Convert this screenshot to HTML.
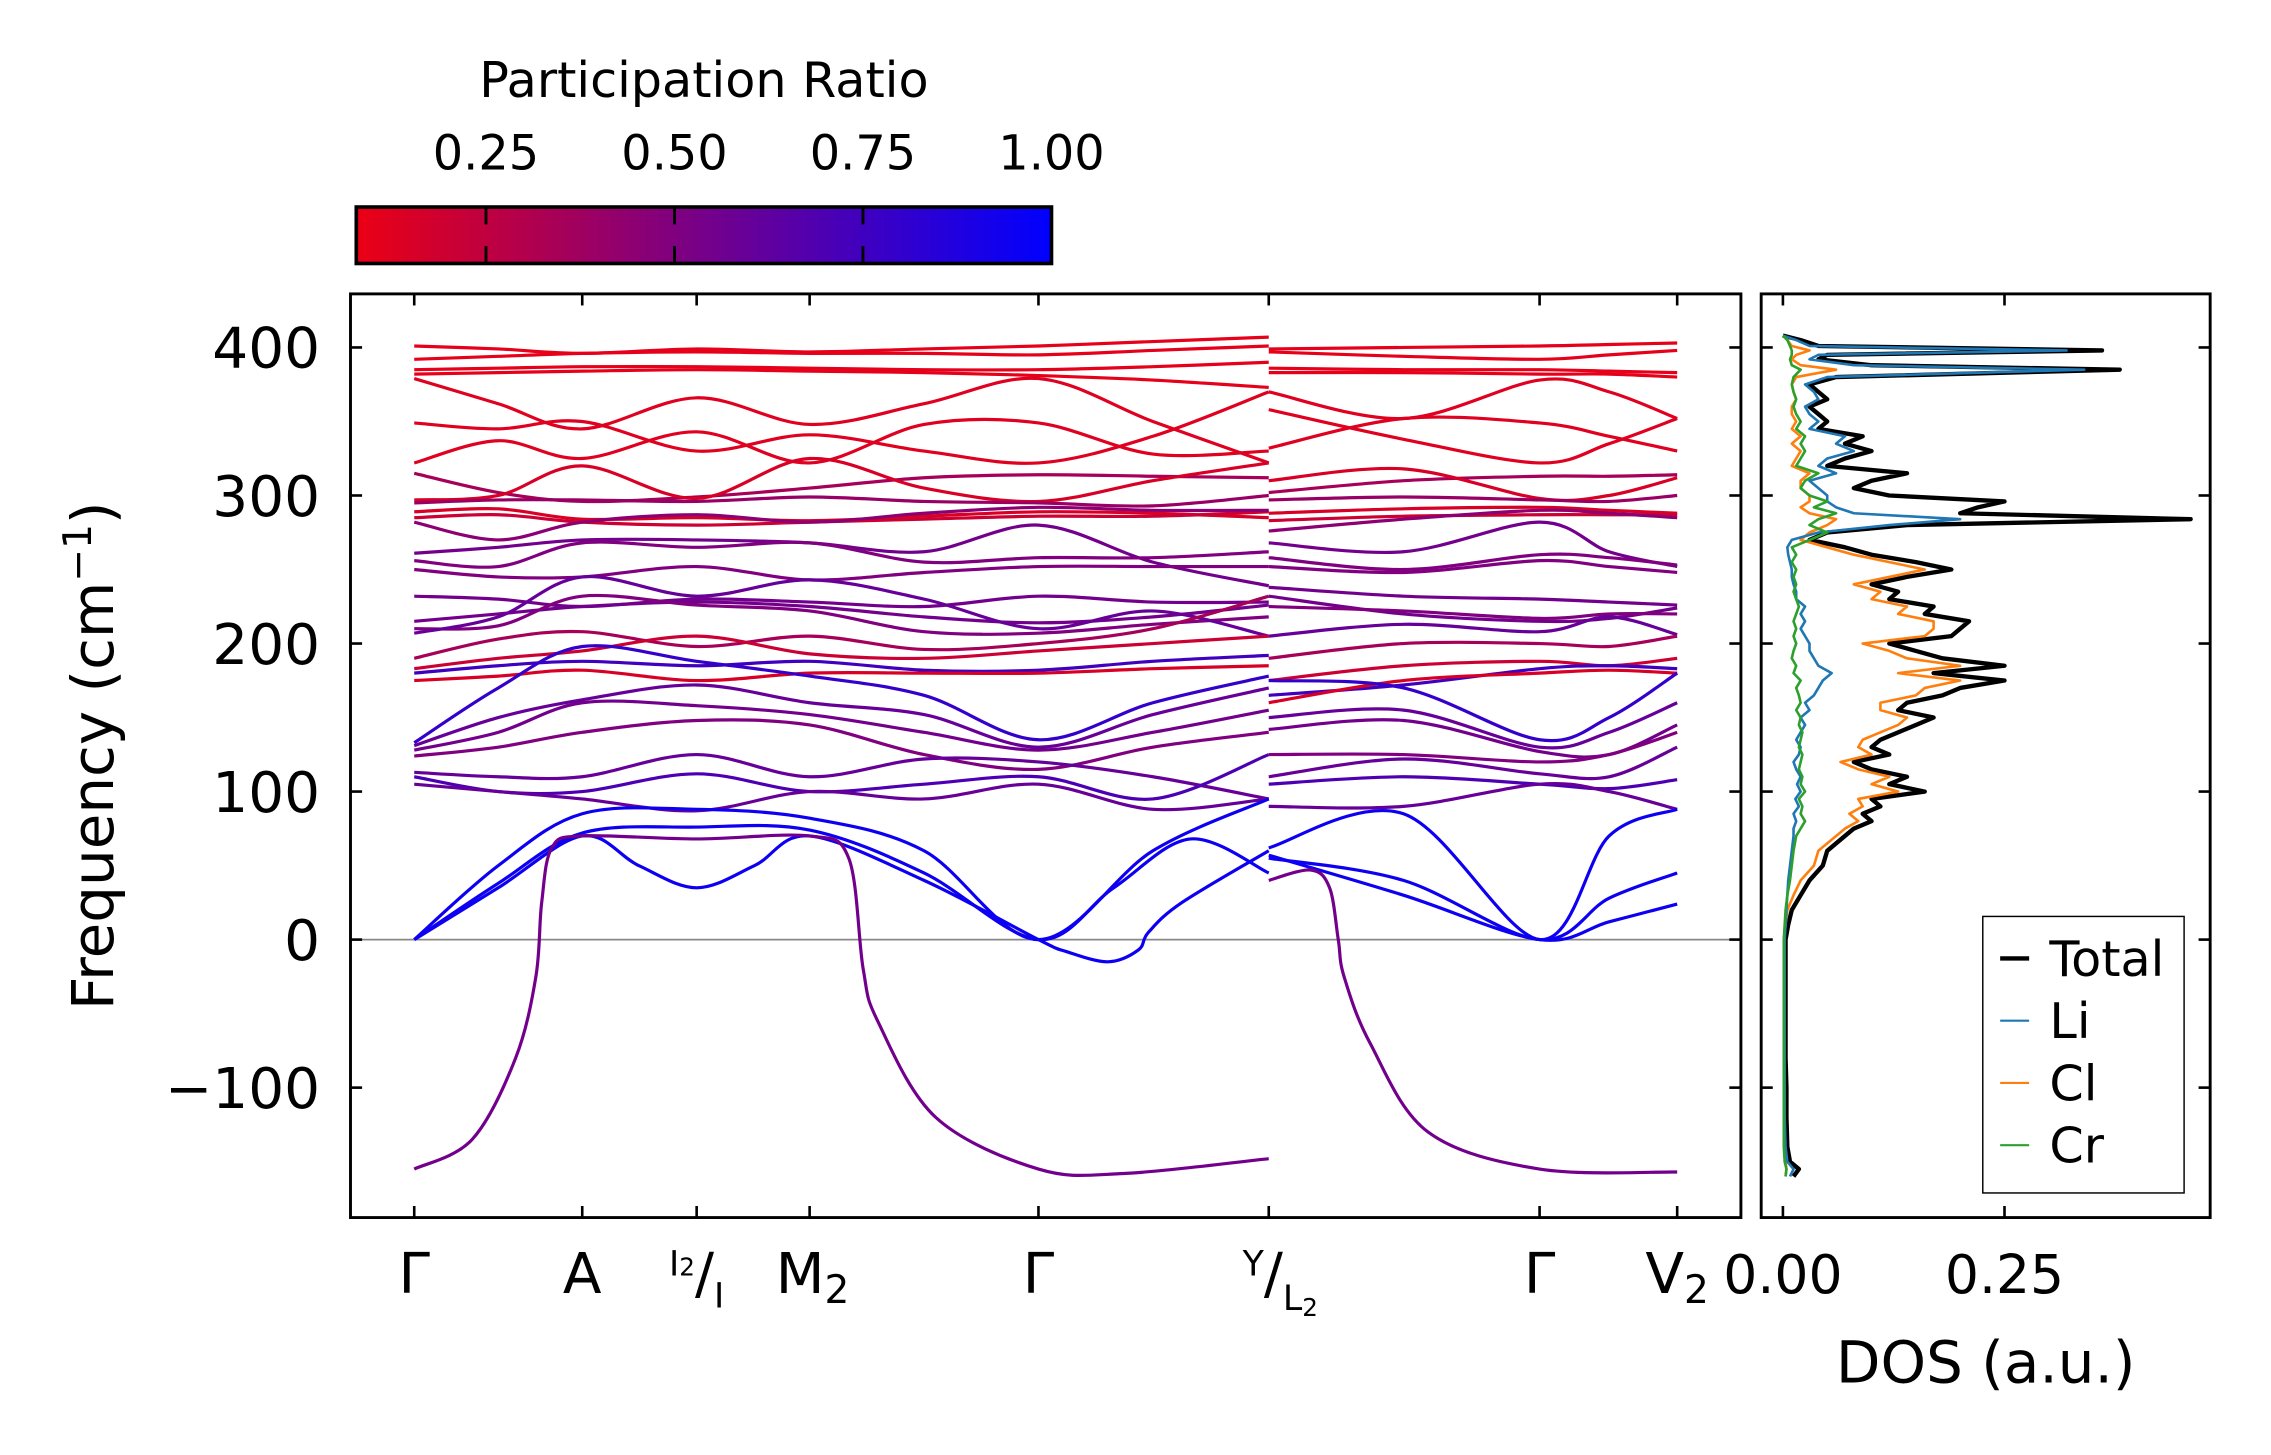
<!DOCTYPE html>
<html><head><meta charset="utf-8"><style>
html,body{margin:0;padding:0;background:#fff;}
svg{display:block;font-family:"DejaVu Sans","Liberation Sans",sans-serif;}
</style></head><body>
<svg id="chart" width="2271" height="1455" viewBox="0 0 1568 1005" preserveAspectRatio="none" xmlns="http://www.w3.org/2000/svg">
<defs>
<linearGradient id="cbgrad" x1="0" x2="1" y1="0" y2="0">
<stop offset="0" stop-color="rgb(235,0,20)"/>
<stop offset="1" stop-color="rgb(0,0,255)"/>
</linearGradient>
<clipPath id="mainclip"><rect x="242" y="203" width="960" height="638"/></clipPath>
<clipPath id="dosclip"><rect x="1216" y="203" width="310" height="638"/></clipPath>
</defs>
<g id="colorbar">
<text x="486" y="67" font-size="34" text-anchor="middle">Participation Ratio</text>
<rect x="246" y="143" width="480" height="39" fill="url(#cbgrad)" stroke="#000" stroke-width="2.5"/>
</g>
<g id="bands" clip-path="url(#mainclip)"></g>
<g id="dos" clip-path="url(#dosclip)"></g>
<g id="axes"></g>
<text x="0" y="0" transform="translate(78,522) rotate(-90)" font-size="40" text-anchor="middle">Frequency (cm<tspan dy="-15" font-size="27">−1</tspan><tspan dy="15">)</tspan></text>
<text x="1371" y="955" font-size="40" text-anchor="middle">DOS (a.u.)</text>
<g id="legend">
<rect x="1369" y="633" width="139" height="191" fill="#fff" stroke="#000" stroke-width="1"/>
<line x1="1381" x2="1401" y1="662" y2="662" stroke="#000" stroke-width="3"/>
<text x="1415" y="674" font-size="34">Total</text>
<line x1="1381" x2="1401" y1="705" y2="705" stroke="#1f77b4" stroke-width="1.5"/>
<text x="1415" y="717" font-size="34">Li</text>
<line x1="1381" x2="1401" y1="748" y2="748" stroke="#ff7f0e" stroke-width="1.5"/>
<text x="1415" y="760" font-size="34">Cl</text>
<line x1="1381" x2="1401" y1="791" y2="791" stroke="#2ca02c" stroke-width="1.5"/>
<text x="1415" y="803" font-size="34">Cr</text>
</g>
</svg>
<script>
// ---- band structure data ----
const gridS1=[0,0.58,1.16,1.95,2.73,3.52,4.31,5.10,5.90];
const gridS2=[5.90,6.83,7.77,8.25,8.72];
const bandsS1=[
[401,399,396,399,397,399,401,404,407],
[392,394,396,397,396,396,395,398,401],
[385,386,387,387,386,385,385,387,390],
[382,383,384,385,384,383,381,378,373],
[379,362,345,366,348,362,379,350,322],
[349,345,350,330,341,330,322,340,370],
[322,337,325,343,322,348,349,328,330],
[315,302,296,299,305,312,314,313,312],
[297,300,320,298,325,305,296,310,322],
[295,297,297,296,299,296,295,293,300],
[289,291,284,285,283,286,289,288,285],
[285,287,282,280,282,284,286,286,289],
[282,270,282,287,282,288,292,290,290],
[261,265,270,270,268,262,280,255,239],
[256,252,268,265,268,255,258,258,262],
[250,245,245,252,243,248,252,252,252],
[232,230,225,230,228,225,232,228,228],
[215,220,225,228,225,218,214,218,226],
[210,212,232,226,222,208,207,213,218],
[207,218,245,232,243,230,210,222,205],
[190,203,208,198,205,196,200,210,232],
[183,190,195,205,193,190,195,200,205],
[180,185,188,185,188,182,182,188,192],
[175,178,182,175,180,180,180,183,185],
[133,170,198,188,178,165,135,160,178],
[131,150,162,172,160,152,130,152,170],
[128,140,160,158,152,140,128,140,155],
[124,130,140,148,145,125,115,130,140],
[113,110,110,125,110,122,120,110,95],
[110,100,100,112,100,105,110,95,125],
[105,100,95,87,100,95,105,88,95],
[0,50,85,88,82,60,0,60,95]
];
const bandsS2=[
[399,400,401,402,403],
[397,394,392,395,398],
[386,385,385,384,383],
[383,383,382,382,380],
[370,352,378,370,352],
[358,338,322,335,352],
[332,352,349,340,330],
[302,310,313,313,314],
[310,318,298,300,312],
[297,299,297,296,300],
[288,291,292,290,288],
[283,286,287,287,287],
[276,284,290,288,285],
[268,262,282,262,252],
[258,250,260,258,253],
[252,248,256,252,248],
[238,232,230,228,226],
[232,220,215,217,224],
[225,222,217,220,220],
[205,213,208,218,206],
[190,200,200,198,205],
[175,185,188,185,190],
[165,172,183,185,183],
[160,175,180,182,180],
[175,170,135,150,180],
[150,155,130,140,160],
[142,148,127,125,145],
[125,125,120,125,140],
[110,122,112,110,130],
[105,110,105,102,108],
[90,90,105,100,88],
[62,85,0,70,88],
[55,40,0,28,45],
[57,30,0,12,24]
];
const bandPR=[0.1,0.1,0.1,0.1,0.12,0.12,0.12,0.35,0.15,0.4,0.15,0.2,0.45,0.55,0.5,0.5,0.55,0.55,0.5,0.6,0.35,0.2,0.75,0.15,0.8,0.6,0.55,0.5,0.6,0.7,0.6,0.95,0.95,0.95];
const acoK=[0,0.58,1.16,1.95,2.73,3.52,4.31,4.83,5.36,5.90];
const acoF=[0,38,72,76,74,45,0,35,68,45];
const dipK=[0,0.58,1.16,1.55,1.95,2.35,2.73,3.52,4.31,4.5,4.79,5.0,5.07,5.3,5.9];
const dipF=[0,35,70,50,35,50,70,40,0,-8,-15,-7,5,25,60];
const softK1=[0,0.4,0.7,0.84,0.88,0.95,1.16,1.95,2.73,3.0,3.1,3.2,3.6,4.31,4.9,5.9];
const softF1=[-155,-135,-80,-25,25,62,70,68,70,55,-20,-55,-120,-155,-158,-148];
const softK2=[5.9,6.19,6.32,6.38,6.42,6.6,7.0,7.77,8.72];
const softF2=[40,47,35,0,-25,-70,-130,-155,-157];
const softPR=0.55;
// ---- DOS data ----
const dosFreq=[-160,-155,-150,-140,-120,-100,-80,-60,-40,-20,
0,10,20,30,40,50,60,70,
75,80,85,90,95,100,105,110,115,120,125,130,135,140,145,150,155,160,165,170,175,180,185,190,195,200,205,210,215,220,225,230,235,240,245,250,255,260,265,270,275,280,
284,288,292,296,
300,305,310,315,320,325,330,335,340,345,350,355,360,365,370,375,380,385,
388,392,395,398,401,405,408];
const dosTotal=[0.012,0.018,0.008,0.005,0.004,0.004,0.003,0.003,0.003,0.003,
0.003,0.006,0.01,0.02,0.03,0.045,0.05,0.07,
0.08,0.1,0.09,0.11,0.1,0.16,0.12,0.14,0.1,0.08,0.12,0.1,0.11,0.13,0.15,0.17,0.13,0.14,0.18,0.2,0.25,0.17,0.25,0.18,0.15,0.12,0.19,0.2,0.21,0.16,0.17,0.12,0.13,0.1,0.14,0.19,0.15,0.1,0.07,0.03,0.05,0.14,
0.46,0.2,0.22,0.25,
0.12,0.08,0.1,0.14,0.05,0.07,0.1,0.07,0.09,0.04,0.05,0.04,0.03,0.05,0.04,0.03,0.06,0.38,
0.1,0.04,0.05,0.36,0.04,0.02,0];
const dosLi=[0.008,0.012,0.005,0.003,0.002,0.002,0.002,0.002,0.002,0.002,
0.002,0.003,0.004,0.005,0.006,0.008,0.01,0.012,
0.012,0.015,0.012,0.018,0.014,0.02,0.016,0.02,0.015,0.012,0.018,0.02,0.015,0.02,0.025,0.02,0.03,0.025,0.035,0.04,0.045,0.055,0.04,0.035,0.03,0.03,0.025,0.02,0.025,0.02,0.025,0.015,0.015,0.012,0.01,0.01,0.008,0.006,0.005,0.01,0.04,0.12,
0.2,0.08,0.06,0.05,
0.05,0.04,0.03,0.06,0.04,0.05,0.08,0.06,0.07,0.03,0.04,0.03,0.025,0.04,0.035,0.025,0.05,0.34,
0.08,0.03,0.04,0.32,0.03,0.015,0];
const dosCl=[0.003,0.004,0.003,0.002,0.002,0.002,0.001,0.001,0.001,0.001,
0.001,0.003,0.005,0.012,0.02,0.035,0.04,0.06,
0.07,0.085,0.075,0.09,0.085,0.13,0.1,0.12,0.085,0.065,0.1,0.085,0.09,0.11,0.13,0.14,0.11,0.11,0.15,0.16,0.2,0.13,0.2,0.14,0.12,0.09,0.16,0.17,0.17,0.13,0.14,0.1,0.11,0.08,0.12,0.16,0.12,0.08,0.05,0.02,0.03,0.05,
0.06,0.03,0.02,0.03,
0.03,0.02,0.02,0.03,0.01,0.015,0.02,0.01,0.02,0.01,0.015,0.01,0.01,0.015,0.012,0.01,0.015,0.06,
0.02,0.01,0.015,0.03,0.01,0.005,0];
const dosCr=[0.003,0.004,0.002,0.001,0.001,0.001,0.001,0.001,0.001,0.001,
0.001,0.002,0.003,0.005,0.008,0.01,0.012,0.015,
0.02,0.025,0.02,0.022,0.018,0.025,0.02,0.022,0.018,0.02,0.022,0.018,0.02,0.022,0.018,0.02,0.015,0.02,0.018,0.015,0.02,0.012,0.015,0.01,0.012,0.015,0.012,0.015,0.012,0.015,0.018,0.015,0.012,0.015,0.012,0.015,0.01,0.015,0.01,0.03,0.05,0.03,
0.04,0.06,0.035,0.05,
0.03,0.02,0.025,0.04,0.015,0.02,0.025,0.02,0.025,0.015,0.02,0.015,0.012,0.015,0.012,0.01,0.012,0.02,
0.01,0.008,0.01,0.01,0.008,0.005,0];
// ---- ticks ----
const yTicks=[-100,0,100,200,300,400];
const kTicks=[0,1.16,1.95,2.73,4.31,5.90,7.77,8.72];
const dosTicks=[0,0.25];
const dosTickLabels=["0.00","0.25"];
const cbTicks=[0.25,0.5,0.75,1.0];
const cbTickLabels=["0.25","0.50","0.75","1.00"];

const NS="http://www.w3.org/2000/svg";
const xk=k=>286+k*100;
const yf=f=>649-f*1.0225;
const xd=d=>1231+d*612;
const xcb=p=>246+(p-0.078)/(1-0.078)*480;
const prColor=p=>`rgb(${Math.round(255*(1-p))},0,${Math.round(255*p)})`;
function mk(tag,attrs,parent){const e=document.createElementNS(NS,tag);for(const a in attrs)e.setAttribute(a,attrs[a]);parent.appendChild(e);return e;}
function smooth(pts){
  let d=`M${pts[0][0].toFixed(2)},${pts[0][1].toFixed(2)}`;
  for(let i=0;i<pts.length-1;i++){
    const p0=pts[i-1]||pts[i],p1=pts[i],p2=pts[i+1],p3=pts[i+2]||pts[i+1];
    const c1x=p1[0]+(p2[0]-p0[0])/6,c1y=p1[1]+(p2[1]-p0[1])/6;
    const c2x=p2[0]-(p3[0]-p1[0])/6,c2y=p2[1]-(p3[1]-p1[1])/6;
    d+=`C${c1x.toFixed(2)},${c1y.toFixed(2)} ${c2x.toFixed(2)},${c2y.toFixed(2)} ${p2[0].toFixed(2)},${p2[1].toFixed(2)}`;
  }
  return d;
}
const gB=document.getElementById('bands');
const zl=mk('line',{x1:242,x2:1202,y1:yf(0),y2:yf(0),stroke:'#888',"stroke-width":1.2},gB);


function drawBand(ks,fs,pr,name){
  const p=mk('path',{d:smooth(ks.map((k,i)=>[xk(k),yf(fs[i])])),fill:'none',stroke:prColor(pr),"stroke-width":2.2},gB);
  
  
}
bandsS1.forEach((b,i)=>drawBand(gridS1,b,bandPR[i],'band-'+(i+1)+'-segment-1'));
bandsS2.forEach((b,i)=>drawBand(gridS2,b,bandPR[i],'band-'+(i+1)+'-segment-2'));
drawBand(acoK,acoF,0.95,'band-33-segment-1');
drawBand(dipK,dipF,0.95,'band-34-segment-1');
drawBand(softK1,softF1,softPR,'soft-mode-segment-1');
drawBand(softK2,softF2,softPR,'soft-mode-segment-2');
const gD=document.getElementById('dos');
function drawDos(vals,color,w,name){
  const pts=vals.map((v,i)=>`${xd(v).toFixed(2)},${yf(dosFreq[i]).toFixed(2)}`).join(' ');
  const p=mk('polyline',{points:pts,fill:'none',stroke:color,"stroke-width":w,"stroke-linejoin":"round"},gD);
  
  
}
drawDos(dosTotal,'#000',3,'dos-total');
drawDos(dosCl,'#ff7f0e',1.8,'dos-cl');
drawDos(dosLi,'#1f77b4',1.8,'dos-li');
drawDos(dosCr,'#2ca02c',1.8,'dos-cr');
const gA=document.getElementById('axes');
const f1=mk('rect',{x:242,y:203,width:960,height:638,fill:'none',stroke:'#000',"stroke-width":2},gA);


const f2=mk('rect',{x:1216,y:203,width:310,height:638,fill:'none',stroke:'#000',"stroke-width":2},gA);


const TL=8;
yTicks.forEach(v=>{
  const y=yf(v);
  [[242,242+TL],[1202,1202-TL],[1216,1216+TL],[1526,1526-TL]].forEach(s=>{
    const t=mk('line',{x1:s[0],x2:s[1],y1:y,y2:y,stroke:'#000',"stroke-width":1.8},gA);
    
    
  });
  const lb=mk('text',{x:221,y:y+14,"font-size":39,"text-anchor":"end"},gA);
  lb.textContent=v<0?'\u2212'+Math.abs(v):String(v);
  
  
});
kTicks.forEach(k=>{
  const x=xk(k);
  [[841,841-TL],[203,203+TL]].forEach(s=>{
    const t=mk('line',{x1:x,x2:x,y1:s[0],y2:s[1],stroke:'#000',"stroke-width":1.8},gA);
    
    
  });
});
dosTicks.forEach((d,i)=>{
  const x=xd(d);
  [[841,841-TL],[203,203+TL]].forEach(s=>{
    const t=mk('line',{x1:x,x2:x,y1:s[0],y2:s[1],stroke:'#000',"stroke-width":1.8},gA);
    
    
  });
  const lb=mk('text',{x:x,y:893,"font-size":37,"text-anchor":"middle"},gA);
  lb.textContent=dosTickLabels[i];
  
  
});
function kLabel(html,x,name){
  const t=mk('text',{x:x,y:893,"font-size":39,"text-anchor":"middle"},gA);
  t.innerHTML=html;
  
  
}
kLabel('Γ',xk(0),'label-gamma-1');
kLabel('A',xk(1.16),'label-a');
kLabel('<tspan font-size="24" dy="-12">I</tspan><tspan font-size="17" dy="0">2</tspan><tspan dy="12">/</tspan><tspan font-size="24" dy="10">I</tspan>',xk(1.95),'label-i2-i');
kLabel('M<tspan font-size="27" dy="7">2</tspan>',xk(2.73)+2,'label-m2');
kLabel('Γ',xk(4.31),'label-gamma-2');
kLabel('<tspan font-size="24" dy="-12">Y</tspan><tspan dy="12">/</tspan><tspan font-size="24" dy="12">L</tspan><tspan font-size="17" dy="4">2</tspan>',xk(5.90)+8,'label-y-l2');
kLabel('Γ',xk(7.77),'label-gamma-3');
kLabel('V<tspan font-size="27" dy="7">2</tspan>',xk(8.72),'label-v2');
const gC=document.getElementById('colorbar');
cbTicks.forEach((p,i)=>{
  const x=xcb(p);
  if(p<1){
    [[143,155],[182,170]].forEach(s=>{
      const t=mk('line',{x1:x,x2:x,y1:s[0],y2:s[1],stroke:'#000',"stroke-width":2},gC);
      
      
    });
  }
  const lb=mk('text',{x:x,y:117,"font-size":33,"text-anchor":"middle"},gC);
  lb.textContent=cbTickLabels[i];
  
  
});
</script>
</body></html>
